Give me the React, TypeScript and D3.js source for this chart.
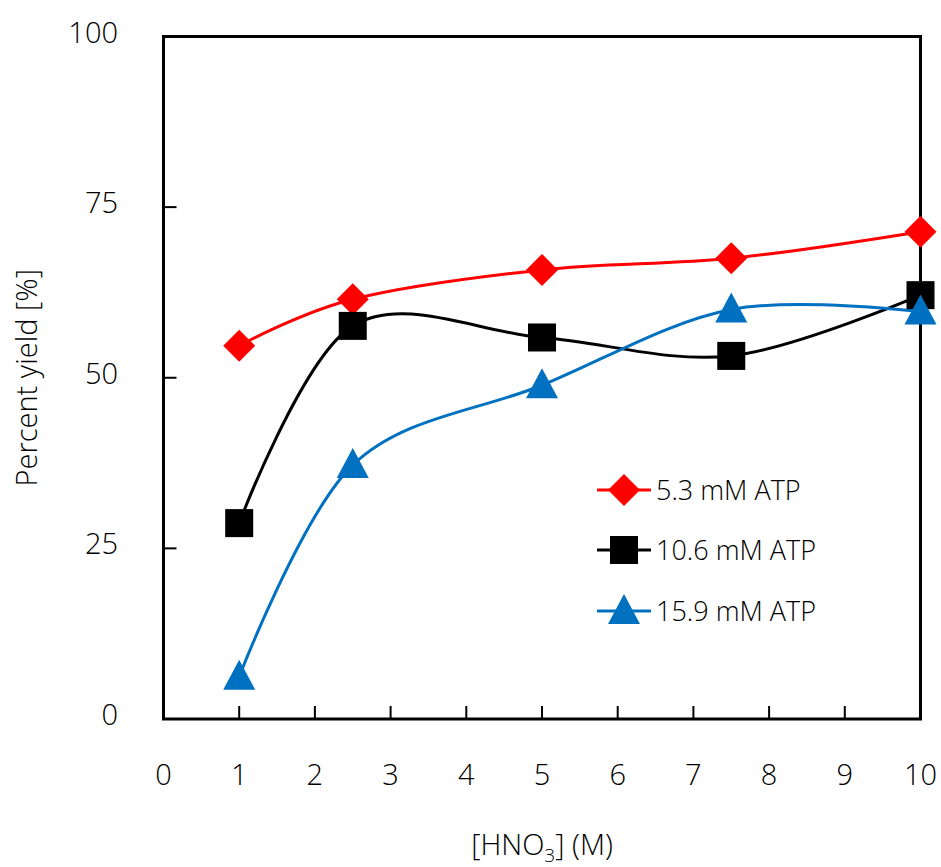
import React from "react";
import * as d3 from "d3";

const xValues = [1, 2.5, 5, 7.5, 10];
const series1 = [54.7, 61.5, 65.8, 67.5, 71.4]; // 5.3 mM ATP
const series2 = [28.7, 57.6, 55.9, 53.2, 62.1]; // 10.6 mM ATP
const series3 = [6.2, 37.2, 48.9, 60.0, 59.7]; // 15.9 mM ATP
const seriesNames = ["5.3 mM ATP", "10.6 mM ATP", "15.9 mM ATP"];
const seriesColors = ["#ff0000", "#000000", "#0070c0"];
const seriesMarkers = ["diamond", "square", "triangle"];
const xTicks = [0, 1, 2, 3, 4, 5, 6, 7, 8, 9, 10];
const yTicks = [0, 25, 50, 75, 100];

const W = 941;
const H = 867;
const left = 163.5;
const right = 920.5;
const top = 36.5;
const bottom = 719;
const font = "'Open Sans', 'Noto Sans', sans-serif";
const weight = 300;

function Marker({ kind, x, y, color }: { kind: string; x: number; y: number; color: string }) {
  if (kind === "diamond") {
    const r = 16;
    return <path d={`M${x},${y - r}L${x + r},${y}L${x},${y + r}L${x - r},${y}Z`} fill={color} />;
  }
  if (kind === "square") {
    const s = 14;
    return <rect x={x - s} y={y - s} width={2 * s} height={2 * s} fill={color} />;
  }
  const hw = 16;
  return <path d={`M${x},${y - 17}L${x + hw},${y + 13}L${x - hw},${y + 13}Z`} fill={color} />;
}

export default function App() {
  const x = d3.scaleLinear().domain([0, 10]).range([left, right]);
  const y = d3.scaleLinear().domain([0, 100]).range([bottom, top]);
  const line = d3
    .line<[number, number]>()
    .x((d) => x(d[0]))
    .y((d) => y(d[1]))
    .curve(d3.curveCardinal.tension(0));

  const all = [series1, series2, series3];
  const legendY = [490, 550, 611];

  return (
    <svg width={W} height={H} style={{ display: "block", position: "absolute", left: 0, top: 0 }}>
      <rect width={W} height={H} fill="#fff" />
      {/* plot frame */}
      <rect x={left} y={top} width={right - left} height={bottom - top} fill="none" stroke="#000" strokeWidth={3} />
      {xTicks.map((t) => (
        <g key={"xt" + t}>
          {t > 0 && t < 10 && <line x1={x(t)} x2={x(t)} y1={bottom} y2={bottom - 13} stroke="#000" strokeWidth={2} />}
          <text x={x(t)} y={785} textAnchor="middle" fontFamily={font} fontWeight={weight} fontSize={29} fill="#000">
            {t}
          </text>
        </g>
      ))}
      {yTicks.map((t) => (
        <g key={"yt" + t}>
          {t > 0 && t < 100 && <line x1={left} x2={left + 13} y1={y(t)} y2={y(t)} stroke="#000" strokeWidth={2} />}
          <text x={118} y={y(t) + 6} textAnchor="end" fontFamily={font} fontWeight={weight} fontSize={29} fill="#000">
            {t}
          </text>
        </g>
      ))}
      <text
        transform={`translate(37,${(top + bottom) / 2}) rotate(-90)`}
        textAnchor="middle"
        fontFamily={font}
        fontWeight={weight}
        fontSize={29}
        fill="#000"
      >
        Percent yield [%]
      </text>
      <text x={542} y={855} textAnchor="middle" fontFamily={font} fontWeight={weight} fontSize={29} fill="#000">
        [HNO<tspan fontSize={19} dy={7}>3</tspan>
        <tspan dy={-7}>] (M)</tspan>
      </text>

      {all.map((vals, i) => (
        <path
          key={"l" + i}
          d={line(xValues.map((xv, j) => [xv, vals[j]] as [number, number])) || ""}
          fill="none"
          stroke={seriesColors[i]}
          strokeWidth={3}
        />
      ))}
      {all.map((vals, i) =>
        xValues.map((xv, j) => (
          <Marker key={`m${i}-${j}`} kind={seriesMarkers[i]} x={x(xv)} y={y(vals[j])} color={seriesColors[i]} />
        ))
      )}

      {seriesNames.map((name, i) => (
        <g key={"lg" + i}>
          <line x1={597} x2={651} y1={legendY[i]} y2={legendY[i]} stroke={seriesColors[i]} strokeWidth={3} />
          <Marker kind={seriesMarkers[i]} x={624} y={legendY[i]} color={seriesColors[i]} />
          <text x={656} y={legendY[i] + 10} fontFamily={font} fontWeight={weight} fontSize={27} fill="#000">
            {name}
          </text>
        </g>
      ))}
    </svg>
  );
}
